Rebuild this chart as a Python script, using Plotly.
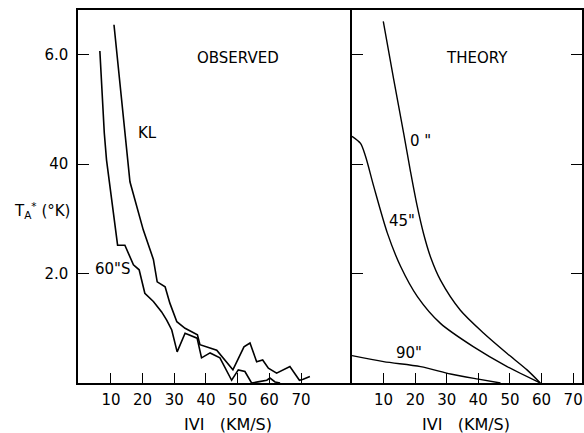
import plotly.graph_objects as go

# Observed (left panel)
kl_x = [10.96, 14.4, 16.0, 20.2, 23.4, 24.6, 27.1, 28.6, 30.8, 33.4, 37.3, 38.1, 41.3, 43.4,
        48.5, 52.0, 53.9, 56.0, 57.9, 59.7, 62.3, 66.5, 69.5, 70.7, 72.8]
kl_y = [6.55, 4.57, 3.68, 2.80, 2.26, 1.85, 1.76, 1.46, 1.12, 1.00, 0.88, 0.70, 0.64, 0.60,
        0.24, 0.66, 0.73, 0.39, 0.42, 0.27, 0.18, 0.30, 0.05, 0.07, 0.12]

s60_x = [6.5, 7.9, 8.6, 11.1, 12.1, 14.4, 17.1, 18.9, 19.7, 20.7, 23.4, 26.0, 27.6, 29.2,
         30.9, 33.4, 37.2, 38.6, 41.3, 44.4, 48.1, 50.2, 52.3, 54.4, 56.4, 59.2, 60.2, 61.8, 63.4]
s60_y = [6.07, 4.57, 4.08, 2.98, 2.52, 2.52, 2.16, 2.07, 1.88, 1.64, 1.49, 1.30, 1.15, 0.97,
         0.57, 0.91, 0.82, 0.46, 0.55, 0.46, 0.05, 0.24, 0.21, 0.0, 0.02, 0.05, 0.09, 0.02, 0.0]

# Theory (right panel)
t0_x = [9.9, 13.2, 16.4, 18.5, 20.5, 22.7, 25.0, 28.0, 34.3, 41.7, 49.1, 55.4, 59.6]
t0_y = [6.61, 5.55, 4.55, 3.87, 3.27, 2.72, 2.28, 1.88, 1.33, 0.91, 0.54, 0.24, 0.0]

t45_x = [0.0, 2.7, 4.3, 6.9, 11.2, 15.4, 20.7, 28.0, 38.5, 49.1, 59.6]
t45_y = [4.51, 4.38, 4.14, 3.59, 2.74, 2.13, 1.58, 1.09, 0.66, 0.30, 0.0]

t90_x = [0.0, 10.0, 21.7, 31.2, 40.0, 47.0]
t90_y = [0.50, 0.39, 0.30, 0.165, 0.07, 0.0]

x_ticks = [10, 20, 30, 40, 50, 60, 70]
y_ticks = [2, 4, 6]
y_ticktext = ["2.0", "40", "6.0"]

FONT = "DejaVu Sans"
line = dict(color="black", width=1.6)
sline = dict(color="black", width=1.4, shape="spline", smoothing=0.8)

fig = go.Figure()
fig.add_trace(go.Scatter(x=kl_x, y=kl_y, mode="lines", line=line, xaxis="x", yaxis="y"))
fig.add_trace(go.Scatter(x=s60_x, y=s60_y, mode="lines", line=line, xaxis="x", yaxis="y"))
fig.add_trace(go.Scatter(x=t0_x, y=t0_y, mode="lines", line=sline, xaxis="x2", yaxis="y2"))
fig.add_trace(go.Scatter(x=t45_x, y=t45_y, mode="lines", line=sline, xaxis="x2", yaxis="y2"))
fig.add_trace(go.Scatter(x=t90_x, y=t90_y, mode="lines", line=sline, xaxis="x2", yaxis="y2"))

split = (352 - 78) / 504

axis_common = dict(showgrid=False, zeroline=False, showline=True, linecolor="black", linewidth=1.5,
                   ticks="inside", tickcolor="black", tickwidth=1.4, automargin=False,
                   tickfont=dict(family=FONT, size=15, color="black"))

fig.update_layout(
    width=584, height=433,
    margin=dict(l=78, r=2, t=10, b=50, autoexpand=False),
    paper_bgcolor="white", plot_bgcolor="white",
    showlegend=False,
    xaxis=dict(domain=[0, split], range=[-0.4, 86.1], tickvals=x_ticks, ticklen=10,
               mirror=True, anchor="y", ticklabelstandoff=2, **axis_common),
    yaxis=dict(domain=[0, 1], range=[0, 6.82], tickvals=y_ticks, ticktext=y_ticktext, ticklen=11,
               mirror=False, anchor="x", ticklabelstandoff=5, **axis_common),
    xaxis2=dict(domain=[split, 1], range=[0, 72.8], tickvals=x_ticks, ticklen=10,
                mirror=True, anchor="y2", ticklabelstandoff=2, **axis_common),
    yaxis2=dict(domain=[0, 1], range=[0, 6.82], tickvals=y_ticks, ticklen=11, showticklabels=False,
                mirror="ticks", anchor="x2", **axis_common),
)

tf = dict(family=FONT, size=15, color="black")
ann = [
    dict(text="OBSERVED", x=50.2, y=5.94, xref="x", yref="y"),
    dict(text="KL", x=21.5, y=4.57, xref="x", yref="y"),
    dict(text="60\"S", x=10.7, y=2.09, xref="x", yref="y"),
    dict(text="THEORY", x=39.7, y=5.94, xref="x2", yref="y2"),
    dict(text="0 \"", x=21.7, y=4.43, xref="x2", yref="y2"),
    dict(text="45\"", x=15.7, y=2.96, xref="x2", yref="y2"),
    dict(text="90\"", x=17.9, y=0.55, xref="x2", yref="y2"),
    dict(text="IVI   (KM/S)", x=(228 - 78) / 504, y=(383 - 424) / 373, xref="paper", yref="paper",
         font=dict(family=FONT, size=16, color="black")),
    dict(text="IVI   (KM/S)", x=(466 - 78) / 504, y=(383 - 424) / 373, xref="paper", yref="paper",
         font=dict(family=FONT, size=16, color="black")),
    dict(text="T<sub>A</sub><sup>*</sup> (°K)", x=(42 - 78) / 504, y=(383 - 210) / 373,
         xref="paper", yref="paper"),
]
for a in ann:
    a.setdefault("font", tf)
    fig.add_annotation(showarrow=False, xanchor="center", yanchor="middle", **a)

fig.write_html("out.html", config={"displayModeBar": False},
               post_script="document.body.style.margin='0';document.body.style.padding='0';")
